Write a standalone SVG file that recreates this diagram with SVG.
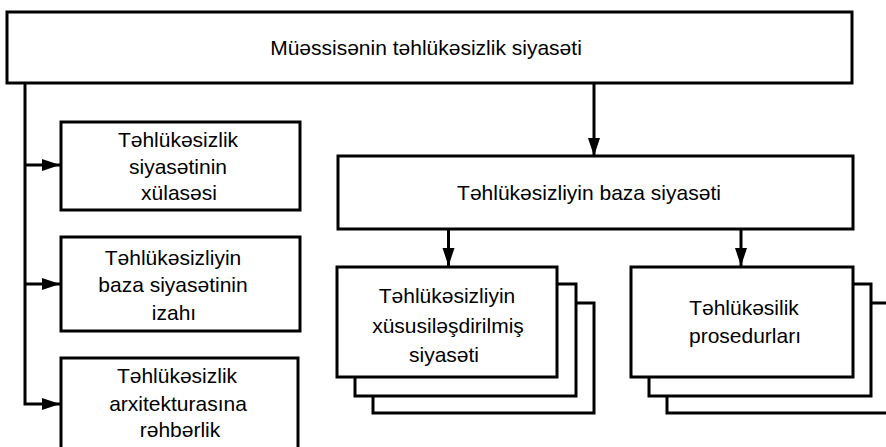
<svg xmlns="http://www.w3.org/2000/svg" width="886" height="447" viewBox="0 0 886 447">
<style>
.box{fill:#fff;stroke:#000;stroke-width:3}
.ln{fill:none;stroke:#000;stroke-width:3}
text{font-family:"Liberation Sans","DejaVu Sans",Arial,sans-serif;font-size:21px;fill:#000;text-anchor:middle}
</style>
<defs>
<marker id="ah" markerUnits="userSpaceOnUse" markerWidth="19" markerHeight="13" refX="18" refY="6.5" orient="auto">
<path d="M0,0.5 L18,6.5 L0,12.5 z" fill="#000"/>
</marker>
</defs>
<rect width="886" height="447" fill="#fff"/>
<g id="connectors">
<path class="ln" d="M25,83 V404 H60" marker-end="url(#ah)"/>
<path class="ln" d="M25,165 H60" marker-end="url(#ah)"/>
<path class="ln" d="M25,284 H60" marker-end="url(#ah)"/>
<path class="ln" d="M594,84 V156" marker-end="url(#ah)"/>
<path class="ln" d="M448.5,229 V266" marker-end="url(#ah)"/>
<path class="ln" d="M741,229 V266" marker-end="url(#ah)"/>
</g>
<g id="top">
<rect class="box" x="7" y="12" width="845" height="71"/>
<text x="426" y="55">Müəssisənin təhlükəsizlik siyasəti</text>
</g>
<g id="summary">
<rect class="box" x="61" y="122" width="239" height="88"/>
<text x="178" y="147">Təhlükəsizlik</text>
<text x="178" y="174">siyasətinin</text>
<text x="179" y="200">xülasəsi</text>
</g>
<g id="explain">
<rect class="box" x="61" y="237" width="239" height="94"/>
<text x="173" y="265">Təhlükəsizliyin</text>
<text x="173" y="292">baza siyasətinin</text>
<text x="174" y="320">izahı</text>
</g>
<g id="arch">
<rect class="box" x="61" y="358" width="237" height="100"/>
<text x="177" y="383">Təhlükəsizlik</text>
<text x="178" y="411">arxitekturasına</text>
<text x="180" y="437">rəhbərlik</text>
</g>
<g id="base">
<rect class="box" x="338" y="156" width="515" height="73"/>
<text x="589" y="200">Təhlükəsizliyin baza siyasəti</text>
</g>
<g id="special">
<rect class="box" x="373" y="303" width="221" height="110"/>
<rect class="box" x="355" y="284" width="221" height="112"/>
<rect class="box" x="337" y="267" width="220" height="110"/>
<text x="447" y="303">Təhlükəsizliyin</text>
<text x="448" y="333">xüsusiləşdirilmiş</text>
<text x="444" y="362">siyasəti</text>
</g>
<g id="procedures">
<rect class="box" x="667" y="303" width="230" height="110"/>
<rect class="box" x="649" y="284" width="222" height="112"/>
<rect class="box" x="631" y="267" width="222" height="110"/>
<text x="744" y="315">Təhlükəsilik</text>
<text x="745" y="343">prosedurları</text>
</g>
</svg>
